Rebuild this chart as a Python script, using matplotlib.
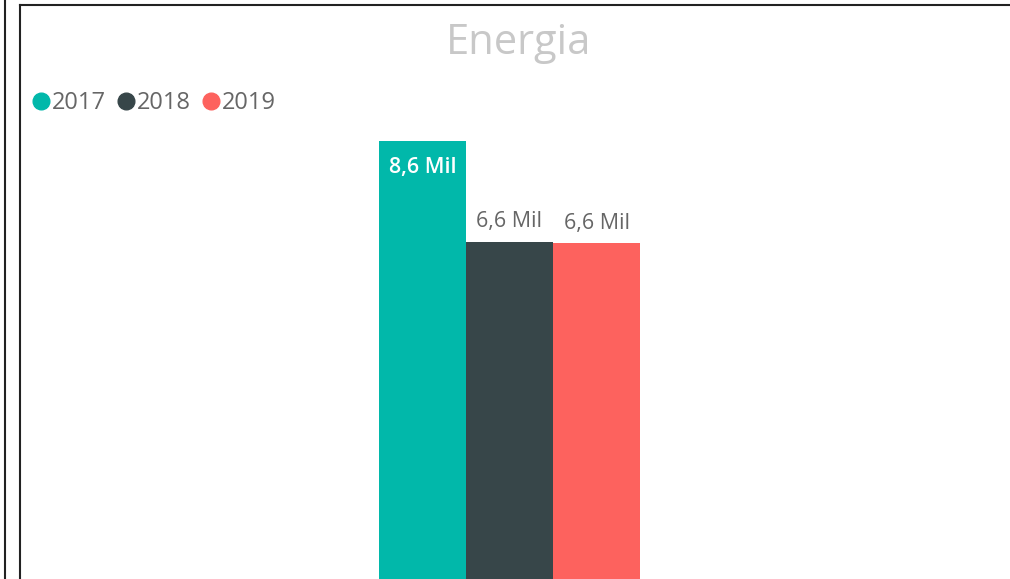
import matplotlib
matplotlib.use("Agg")
import matplotlib.pyplot as plt
from matplotlib.lines import Line2D

# ── Data ────────────────────────────────────────────────────
years  = ["2017", "2018", "2019"]
values = [8600, 6620, 6590]
labels = ["8,6 Mil", "6,6 Mil", "6,6 Mil"]
colors = ["#01B8AA", "#374649", "#FD625E"]
title  = "Energia"

W, H, DPI = 1010, 579, 100
plt.rcParams["font.family"] = ["Open Sans", "DejaVu Sans"]

fig = plt.figure(figsize=(W / DPI, H / DPI), dpi=DPI)
fig.patch.set_facecolor("white")

# axes spans the visual box (x 20 -> right edge, y bottom -> 5px from top)
ax = fig.add_axes([20 / W, 0, (W - 20) / W, (H - 5) / H])
px_per_unit_y = 438 / values[0]
ax.set_ylim(0, (H - 5) / px_per_unit_y)
bar_px = 87
span = (W - 20) / bar_px
left = 1 - (509.5 - 20) / bar_px
ax.set_xlim(left, left + span)
ax.axis("off")

xs = list(range(len(years)))
ax.bar(xs, values, width=1.0, color=colors, edgecolor="none")

for x, v, lab in zip(xs, values, labels):
    if x == 0:
        ax.annotate(lab, (x, v), xytext=(0, -19), textcoords="offset points",
                    ha="center", va="center", color="white", fontsize=15.5,
                    fontweight="semibold")
    else:
        ax.annotate(lab, (x, v), xytext=(0, 14.5), textcoords="offset points",
                    ha="center", va="center", color="#666666", fontsize=15.5)

# title
fig.text(519 / W, 1 - 43 / H, title, ha="center", va="center",
         color="#C8C8C8", fontsize=30)

# legend
lx = 41
for yr, c in zip(years, colors):
    fig.add_artist(Line2D([lx / W], [1 - 101 / H], marker="o", markersize=12,
                          color=c, linestyle="none"))
    t = fig.text((lx + 11) / W, 1 - 103 / H, yr, ha="left", va="center",
                 color="#666666", fontsize=17)
    fig.canvas.draw()
    bb = t.get_window_extent()
    lx = bb.x1 + 20

# frame lines
k = "#222222"
fig.add_artist(Line2D([5 / W, 5 / W], [0, 1], color=k, lw=1.5))
fig.add_artist(Line2D([20 / W, 20 / W], [0, 1 - 5 / H], color=k, lw=1.5))
fig.add_artist(Line2D([20 / W, 1], [1 - 5 / H, 1 - 5 / H], color=k, lw=1.5))

fig.savefig("out.png", dpi=DPI)
